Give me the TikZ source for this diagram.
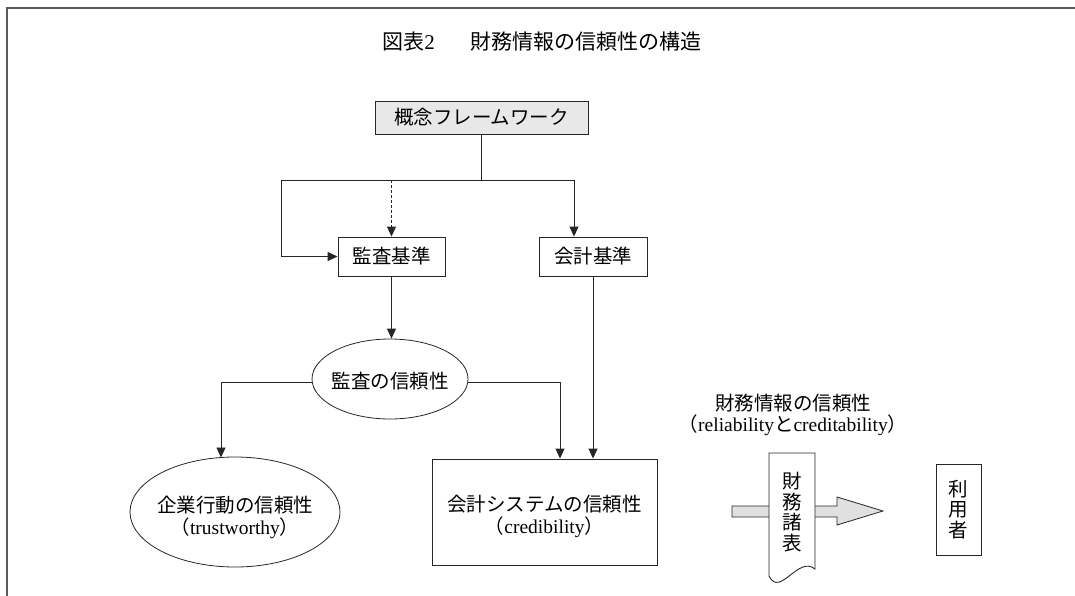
\documentclass[tikz,border=0pt]{standalone}
\usepackage{fontspec}
\setmainfont{Liberation Serif}
\newfontfamily\jp{Noto Sans CJK JP}
\usetikzlibrary{arrows.meta,shapes.geometric,calc}
\begin{document}
\begin{tikzpicture}[x=1pt,y=-1pt,
  every node/.style={font=\fontsize{19.5}{22}\selectfont, inner sep=0pt},
  conn/.style={draw=black!85, line width=0.9pt},
  arr/.style={conn,-{Triangle[length=10pt,width=9pt]}},
  boxn/.style={draw=black!85, line width=0.9pt, rectangle, align=center},
  elln/.style={draw=black!85, line width=0.8pt, ellipse},
  vtext/.style={align=center, font=\jp\fontsize{19.5}{20.5}\selectfont},
]
\useasboundingbox (0,0) rectangle (1075,596);
% frame
\draw[black!65, line width=1.5pt] (7,596) -- (7,8) -- (1075,8);

% title
\node[font=\fontsize{21}{24}\selectfont] (title) at (542,42)
  {{\jp 図表}2\hspace{36pt}{\jp 財務情報の信頼性の構造}};

% nodes
\node[boxn, fill=black!9, minimum width=213pt, minimum height=33pt] (cf) at (481.5,117.5) {\jp 概念フレームワーク};
\node[boxn, minimum width=107pt, minimum height=39pt] (kansa) at (391.5,256.5) {\jp 監査基準};
\node[boxn, minimum width=108pt, minimum height=39pt] (kaikei) at (593,256.5) {\jp 会計基準};
\node[elln, minimum width=156pt, minimum height=80pt,
  label={[yshift=-2pt]center:{\jp 監査の信頼性}}] (kshin) at (390,379) {};
\node[elln, minimum width=210pt, minimum height=110pt,
  label={[align=center, yshift=-5pt]center:{\jp 企業行動の信頼性}\\{\jp （}trustworthy{\jp ）}}] (kigyo) at (235,512) {};
\node[boxn, minimum width=225pt, minimum height=106pt,
  label={[align=center, yshift=-4pt]center:{\jp 会計システムの信頼性}\\{\jp （}credibility{\jp ）}}] (sys) at (544.5,512) {};

% financial information label
\node[align=center, font=\fontsize{19.5}{20.5}\selectfont] (fitext) at (793,415)
  {{\jp 財務情報の信頼性}\\{\jp （}reliability{\jp と}creditability{\jp ）}};

% block arrow
\draw[draw=black!85, fill=black!12, line width=0.8pt]
  (732,506) -- (837,506) -- (837,497) -- (883,511) -- (837,525) -- (837,517) -- (732,517) -- cycle;
% document shape
\draw[draw=black!85, fill=white, line width=0.9pt]
  (769,576) -- (769,453) -- (815,453) -- (815,569) .. controls (798,555) and (780,598) .. (769,576) -- cycle;
\node[vtext] (fs) at (792,512) {財\\務\\諸\\表};

% user
\node[boxn, vtext, minimum width=45pt, minimum height=91pt] (user) at (958.5,509.5) {利\\用\\者};

% connectors
\coordinate (jL) at (281,180);
\coordinate (jR) at (574,180);
\coordinate (kt) at (221,457.5);
\draw[conn] (cf.south) -- (cf.south |- jL);
\draw[conn] (jL) -- (jR);
\draw[arr] (jL) |- (kansa.west);
\draw[arr, dash pattern=on 3pt off 2pt] (kansa.north |- jL) -- (kansa.north);
\draw[arr] (jR) -- (jR |- kaikei.north);
\draw[arr] (kansa.south) -- (kansa.south |- kshin.north);
\draw[arr] ([yshift=-3pt]kshin.west) -| (kt);
\draw[arr] ([yshift=-3pt]kshin.east) -| ([xshift=15.5pt]sys.north);
\draw[arr] (kaikei.south) -- (kaikei.south |- sys.north);
\end{tikzpicture}
\end{document}
